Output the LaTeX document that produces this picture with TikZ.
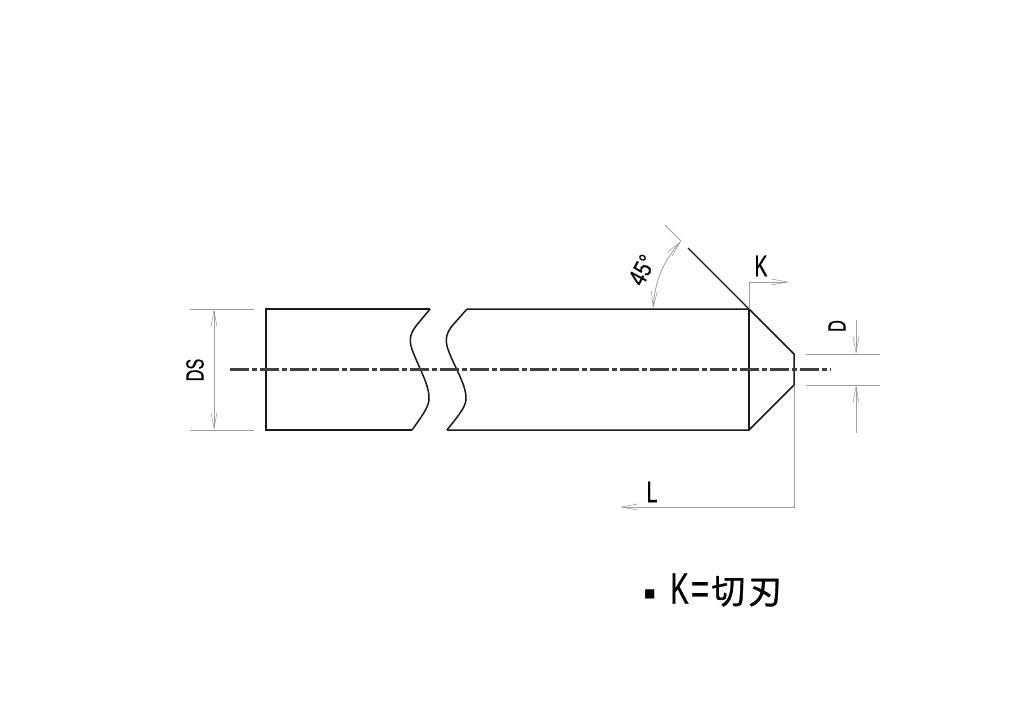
\documentclass[tikz,border=0pt]{standalone}
\usepackage{fontspec}
\usepackage{graphicx}
\setmainfont[FakeBold=0.5]{Liberation Sans}
\newfontfamily\cjk[FakeBold=0.8]{Noto Sans CJK JP}
\newfontfamily\symb{DejaVu Sans}
\usetikzlibrary{arrows.meta}
\newcommand{\narrow}[2][0.65]{\scalebox{#1}[1]{#2}}
\tikzset{
  outline/.style={draw=black!90, line width=1.5pt},
  thin gray/.style={draw=black!38, line width=0.8pt},
  axis/.style={draw=black!75, line width=2.2pt, dash pattern=on 19pt off 3pt on 5pt off 3pt},
  barb/.tip={Straight Barb[length=16pt, width=6pt, line width=0.6pt]},
  dim/.style={thin gray, -barb},
  dimboth/.style={thin gray, barb-barb},
  lbl/.style={inner sep=0pt, font=\fontsize{30}{30}\selectfont},
  lblsmall/.style={inner sep=0pt, font=\fontsize{25}{25}\selectfont}
}
\begin{document}
\begin{tikzpicture}[x=1pt, y=-1pt]
\useasboundingbox (0,0) rectangle (1024,724);
\coordinate (tl) at (266,309);
\coordinate (bl) at (266,430);
\coordinate (brk1t) at (430,309);
\coordinate (brk1b) at (412,430);
\coordinate (brk2t) at (467,309);
\coordinate (brk2b) at (447,430);
\coordinate (sh) at (749,309);
\coordinate (sb) at (749,430);
\coordinate (tipt) at (794,354);
\coordinate (tipb) at (794,385);
% body
\draw [outline] (brk1t) -- (tl) -- (bl) -- (brk1b);
\draw [outline] (brk1t) -- (416,326) .. controls (409,335) and (409,342) .. (413,352)
  .. controls (419,368) and (430,386) .. (429,400) .. controls (428,408) and (422,416) .. (brk1b);
\draw [outline] (brk2t) -- (452,326) .. controls (445,335) and (445,342) .. (449,352)
  .. controls (455,368) and (467,386) .. (466,400) .. controls (465,408) and (458,416) .. (brk2b);
\draw [outline] (brk2t) -- (sh) -- (tipt) -- (tipb) -- (sb) -- (brk2b);
\draw [outline] (sh) -- (sb);
% centre line
\coordinate (c0) at (230,369.5);
\coordinate (c1) at (831,369.5);
\draw [axis] (c0) -- (c1);
% DS
\coordinate (ds0) at (190,309);
\coordinate (ds1) at (254,309);
\coordinate (ds2) at (190,430);
\coordinate (ds3) at (254,430);
\coordinate (dst) at (214,309);
\coordinate (dsb) at (214,430);
\draw [thin gray] (ds0) -- (ds1);
\draw [thin gray] (ds2) -- (ds3);
\draw [dimboth] (dst) -- (dsb);
\node [lblsmall, rotate=90] (ds) at (195,370) {\narrow{DS}};
% 45 deg
\coordinate (a0) at (688,248);
\coordinate (a1) at (681,241);
\coordinate (a2) at (665,225);
\coordinate (a3) at (653,309);
\draw [outline, line width=1.1pt] (sh) -- (a0);
\draw [thin gray] (a1) -- (a2);
\draw [dimboth] (a3) to[bend left=18] (a1);
\node [lblsmall, rotate=62] (ang) at (642,270) {\narrow[0.8]{45°}};
% K
\coordinate (k0) at (749,282);
\coordinate (k1) at (789,282);
\draw [dim] (sh) -- (k0) -- (k1);
\node [lbl] (k) at (761,266) {\narrow{K}};
% D
\coordinate (d0) at (806,354);
\coordinate (d1) at (880,354);
\coordinate (d2) at (806,385);
\coordinate (d3) at (880,385);
\coordinate (d4) at (856,320);
\coordinate (d5) at (856,354);
\coordinate (d6) at (856,433);
\coordinate (d7) at (856,385);
\draw [thin gray] (d0) -- (d1);
\draw [thin gray] (d2) -- (d3);
\draw [dim] (d4) -- (d5);
\draw [dim] (d6) -- (d7);
\node [lblsmall, rotate=90] (dd) at (837,326) {\narrow{D}};
% L
\coordinate (l0) at (794,507);
\coordinate (l1) at (620,507);
\draw [dim] (tipb) -- (l0) -- (l1);
\node [lbl] (ll) at (652,492) {\narrow{L}};
% note
\node [inner sep=0pt, anchor=west, font=\fontsize{44}{44}\selectfont] (note) at (644,590)
  {\raisebox{6pt}{\symb\fontsize{12}{12}\selectfont ■}\hspace{15pt}\narrow[0.62]{K}\hspace{2pt}\narrow[0.72]{=}\hspace{2pt}{\cjk\fontsize{34}{34}\selectfont 切\hspace{3pt}刃}};
\end{tikzpicture}
\end{document}
